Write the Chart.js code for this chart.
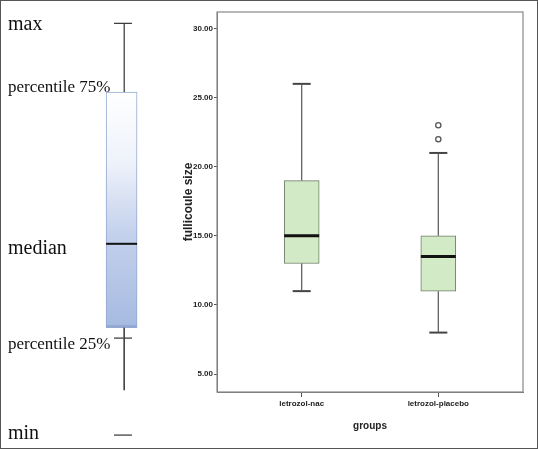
<!DOCTYPE html>
<html>
<head>
<meta charset="utf-8">
<script src="https://cdn.jsdelivr.net/npm/chart.js@4.4.1/dist/chart.umd.min.js"></script>
<style>
  html, body { margin: 0; padding: 0; background: #fff; }
  #wrap { position: relative; width: 538px; height: 449px; overflow: hidden; background: #fff; }
  #left  { position: absolute; left: 0; top: 0; }
  #right { position: absolute; left: 176px; top: 0; }
  #frame { position: absolute; left: 0; top: 0; width: 538px; height: 449px; box-sizing: border-box;
           border: 1.5px solid #555; pointer-events: none; }
</style>
</head>
<body>
<div id="wrap">
  <canvas id="left" width="180" height="449"></canvas>
  <canvas id="right" width="362" height="449"></canvas>
  <div id="frame"></div>
</div>
<script>
// ---- schematic legend (left), arbitrary 0-100 scale ----
const schemeLabels = ['max', 'percentile 75%', 'median', 'percentile 25%', 'min'];
const schemeLabelLevels = [94.5, 80.6, 44.6, 23.3, 3.3];
const schemeBox = [27, 79.5];          // box bottom / top
const schemeMedian = 45.7;
const schemeWhiskerTop = 94.8;
const schemeCap25 = 24.7;
const schemeWhiskerEnd = 13.1;
const schemeMin = 3.1;

// ---- follicle size by group (right) ----
const groups = ['letrozol-nac', 'letrozol-placebo'];
const groupPos = [1, 2];
const whiskerLow = [11, 8];
const q1 = [13, 11];
const medians = [15, 13.5];
const q3 = [19, 15];
const whiskerHigh = [26, 21];
const outliers = [[], [22, 23]];
const yTicks = [5, 10, 15, 20, 25, 30];

const sans = "'Liberation Sans', Arial, sans-serif";

// straight segment as its own line dataset
function seg(x1, y1, x2, y2, color, width) {
  return {
    type: 'line',
    data: [{ x: x1, y: y1 }, { x: x2, y: y2 }],
    borderColor: color,
    borderWidth: width,
    pointRadius: 0,
    fill: false,
    tension: 0,
    order: 0,
    clip: false
  };
}

// ============================================
// 1. LEFT: SCHEMATIC BOX
// ============================================
const sx = 0.668, wx = 0.683;
const leftSets = [
  seg(wx, schemeBox[1], wx, schemeWhiskerTop, '#333', 1.2),
  seg(0.625, schemeWhiskerTop, 0.727, schemeWhiskerTop, '#333', 1.2),
  seg(wx, schemeBox[0], wx, schemeWhiskerEnd, '#444', 1),
  seg(0.625, schemeCap25, 0.727, schemeCap25, '#333', 1.2),
  seg(0.625, schemeMin, 0.727, schemeMin, '#333', 1.2),
  seg(0.580, schemeMedian, 0.756, schemeMedian, '#111', 2),
  {
    type: 'bar',
    data: [{ x: sx, y: schemeBox }],
    barThickness: 31,
    order: 1,
    borderSkipped: false,
    borderColor: '#93a8d2',
    borderWidth: { top: 1, left: 1, right: 1, bottom: 3 },
    backgroundColor: ctx => {
      const chart = ctx.chart;
      if (!chart.chartArea) return '#c5d2ec';
      const y = chart.scales.y;
      const g = chart.ctx.createLinearGradient(0, y.getPixelForValue(schemeBox[1]), 0, y.getPixelForValue(schemeBox[0]));
      g.addColorStop(0, '#ffffff');
      g.addColorStop(0.3, '#eef2fa');
      g.addColorStop(0.6, '#c4d1ec');
      g.addColorStop(1, '#a6bae1');
      return g;
    }
  }
];

new Chart(document.getElementById('left'), {
  type: 'bar',
  data: { datasets: leftSets },
  options: {
    responsive: false,
    animation: false,
    layout: { padding: 0 },
    plugins: { legend: { display: false }, tooltip: { enabled: false } },
    scales: {
      x: { type: 'linear', min: 0, max: 1, offset: false, display: false },
      y: {
        type: 'linear', min: 0, max: 100, position: 'left',
        grid: { display: false },
        border: { display: false },
        afterFit: s => { s.width = 4; s.paddingTop = 0; s.paddingBottom = 0; },
        afterBuildTicks: s => { s.ticks = schemeLabelLevels.map(v => ({ value: v })); },
        ticks: {
          mirror: true,
          padding: 4,
          autoSkip: false,
          color: '#111',
          font: ctx => ({
            family: "'Liberation Serif', 'Times New Roman', serif",
            size: schemeLabels[ctx.index] && schemeLabels[ctx.index].startsWith('percentile') ? 17 : 20
          }),
          callback: (v, i) => schemeLabels[i]
        }
      }
    }
  }
});

// ============================================
// 2. RIGHT: BOX PLOT BY GROUP
// ============================================
const rightSets = [];
groupPos.forEach((x, i) => {
  rightSets.push(seg(x - 0.128, medians[i], x + 0.128, medians[i], '#111', 3));
  rightSets.push(seg(x, q3[i], x, whiskerHigh[i], '#555', 1.2));
  rightSets.push(seg(x, whiskerLow[i], x, q1[i], '#555', 1.2));
  rightSets.push(seg(x - 0.066, whiskerHigh[i], x + 0.066, whiskerHigh[i], '#444', 2));
  rightSets.push(seg(x - 0.066, whiskerLow[i], x + 0.066, whiskerLow[i], '#444', 2));
});
rightSets.push({
  type: 'scatter',
  data: outliers.flatMap((arr, i) => arr.map(v => ({ x: groupPos[i], y: v }))),
  pointRadius: 2.6,
  pointBackgroundColor: '#fff',
  pointBorderColor: '#555',
  pointBorderWidth: 1.3,
  order: 0
});
rightSets.push({
  type: 'bar',
  data: groupPos.map((x, i) => ({ x: x, y: [q1[i], q3[i]] })),
  backgroundColor: '#d3eac6',
  borderColor: '#6d7d68',
  borderWidth: 1,
  borderSkipped: false,
  barThickness: 35,
  order: 1
});

const frameBox = {
  id: 'frameBox',
  afterDraw(chart) {
    const { ctx, chartArea: a } = chart;
    ctx.save();
    ctx.strokeStyle = '#888';
    ctx.lineWidth = 1.2;
    ctx.strokeRect(a.left, a.top, a.right - a.left, a.bottom - a.top);
    ctx.restore();
  }
};

new Chart(document.getElementById('right'), {
  type: 'bar',
  data: { datasets: rightSets },
  plugins: [frameBox],
  options: {
    responsive: false,
    animation: false,
    layout: { padding: { top: 12, right: 15, bottom: 13, left: 0 } },
    plugins: { legend: { display: false }, tooltip: { enabled: false } },
    scales: {
      x: {
        type: 'linear', min: 0.38, max: 2.62, offset: false,
        afterFit: s => { s.height = 44; },
        afterBuildTicks: s => { s.ticks = groupPos.map(v => ({ value: v })); },
        grid: { offset: false, drawOnChartArea: false, tickLength: 5, tickColor: '#555' },
        border: { color: '#777' },
        ticks: {
          padding: 2, autoSkip: false, maxRotation: 0, color: '#222',
          font: { family: sans, size: 8, weight: 'bold' },
          callback: (v, i) => groups[i]
        },
        title: {
          display: true, text: 'groups', color: '#222',
          font: { family: sans, size: 10, weight: 'bold' },
          padding: { top: 4, bottom: 4 }
        }
      },
      y: {
        type: 'linear', min: 3.7, max: 31.2,
        afterFit: s => { s.width = 41; },
        afterBuildTicks: s => { s.ticks = yTicks.map(v => ({ value: v })); },
        grid: { drawOnChartArea: false, tickLength: 3, tickColor: '#555' },
        border: { color: '#777' },
        ticks: {
          padding: 1, autoSkip: false, color: '#222',
          font: { family: sans, size: 8, weight: 'bold' },
          callback: v => v.toFixed(2)
        },
        title: {
          display: true, text: 'fullicoule size', color: '#222',
          font: { family: sans, size: 12, weight: 'bold' },
          padding: { top: 5, bottom: 2 }
        }
      }
    }
  }
});
</script>
</body>
</html>
